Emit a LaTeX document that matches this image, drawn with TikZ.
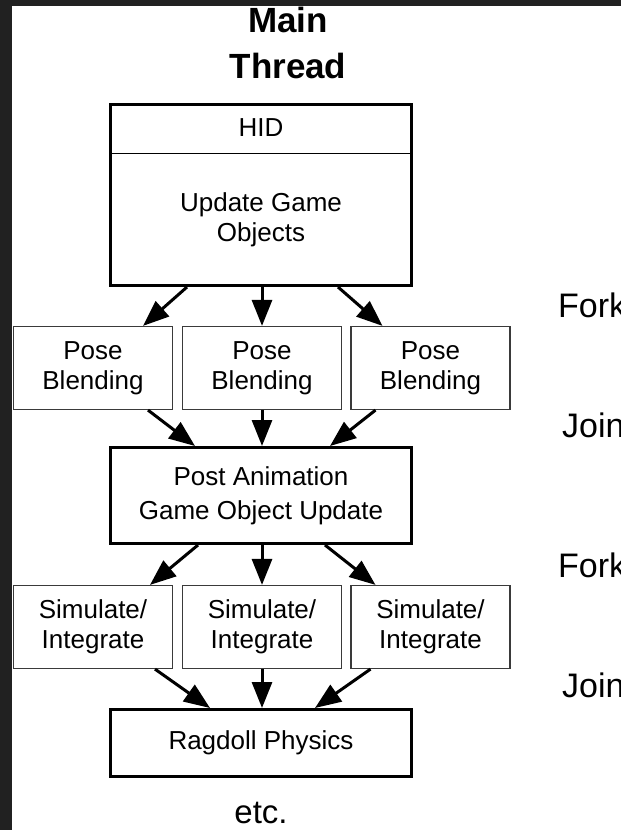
\documentclass[tikz,border=0pt]{standalone}
\usepackage{fontspec}
\setmainfont{Liberation Sans}
\usetikzlibrary{arrows.meta}
\definecolor{framedark}{HTML}{212121}
\definecolor{thinedge}{HTML}{3A3A3A}
\begin{document}
\begin{tikzpicture}[x=1pt,y=-1pt,
  boxtxt/.style={font=\fontsize{26}{30}\selectfont, align=center},
  heavybox/.style={draw=black, line width=3pt, inner sep=0pt, minimum width=301pt, boxtxt},
  taskbox/.style={draw=thinedge, line width=1.2pt, inner sep=0pt, minimum width=159pt, minimum height=83pt, boxtxt},
  flow/.style={line width=3pt, -{Triangle[length=26pt,width=20pt]}},
  sidelabel/.style={font=\fontsize{34}{40}\selectfont, anchor=base west, inner sep=0pt},
  titletxt/.style={font=\fontsize{35}{48}\selectfont\bfseries, anchor=base, inner sep=0pt},
]
% canvas and dark frame strips
\useasboundingbox (0,0) rectangle (621,830);
\fill[white] (0,0) rectangle (621,830);
\fill[framedark] (0,0) rectangle (12,830);
\fill[framedark] (0,0) rectangle (621,6);

% title
\node[titletxt] (title1) at (288,32) {Main};
\node[titletxt] (title2) at (288,78) {Thread};

% main thread: HID + game object update
\node[heavybox, minimum height=181pt] (gameobj) at (261,195) {};
\draw[line width=1pt] (gameobj.west |- 0,153) -- (gameobj.east |- 0,153);
\node[boxtxt, inner sep=0pt] (hid) at (261,128) {HID};
\node[boxtxt, inner sep=0pt] (upd) at (261,220) {Update Game\\Objects};

% first fork: pose blending
\node[taskbox] (pose1) at (93,368) {Pose\\Blending};
\node[taskbox] (pose2) at (262,368) {Pose\\Blending};
\node[taskbox] (pose3) at (430.5,368) {Pose\\Blending};

% join: post animation update
\node[heavybox, minimum height=96pt, font=\fontsize{26}{34}\selectfont] (post) at (261,495.5) {Post Animation\\Game Object Update};

% second fork: physics simulation
\node[taskbox] (sim1) at (93,627) {Simulate/\\Integrate};
\node[taskbox] (sim2) at (262,627) {Simulate/\\Integrate};
\node[taskbox] (sim3) at (430.5,627) {Simulate/\\Integrate};

% join: ragdoll physics
\node[heavybox, minimum height=67pt] (ragdoll) at (261,743) {Ragdoll Physics};

\node[font=\fontsize{33}{40}\selectfont, anchor=base, inner sep=0pt] (etc) at (261,823) {etc.};

% fork arrows
\draw[flow] ([xshift=-74pt]gameobj.south) -- ([xshift=50pt]pose1.north);
\draw[flow] (gameobj.south -| pose2.north) -- (pose2.north);
\draw[flow] ([xshift=77pt]gameobj.south) -- ([xshift=-48pt]pose3.north);

% join arrows
\draw[flow] ([xshift=55pt]pose1.south) -- ([xshift=-66pt]post.north);
\draw[flow] (pose2.south) -- (pose2.south |- post.north);
\draw[flow] ([xshift=-55pt]pose3.south) -- ([xshift=69pt]post.north);

% fork arrows
\draw[flow] ([xshift=-63pt]post.south) -- ([xshift=57pt]sim1.north);
\draw[flow] (post.south -| sim2.north) -- (sim2.north);
\draw[flow] ([xshift=64pt]post.south) -- ([xshift=-55pt]sim3.north);

% join arrows
\draw[flow] ([xshift=62pt]sim1.south) -- ([xshift=-51pt]ragdoll.north);
\draw[flow] (sim2.south) -- (sim2.south |- ragdoll.north);
\draw[flow] ([xshift=-60pt]sim3.south) -- ([xshift=54pt]ragdoll.north);

% phase labels
\node[sidelabel] (fork1) at (558,317) {Fork};
\node[sidelabel] (join1) at (562,437) {Join};
\node[sidelabel] (fork2) at (558,577) {Fork};
\node[sidelabel] (join2) at (562,697) {Join};
\end{tikzpicture}
\end{document}
